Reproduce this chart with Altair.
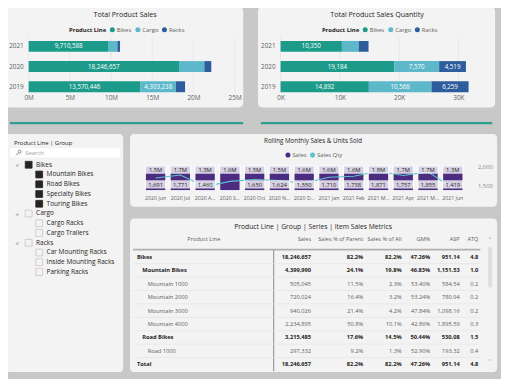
import json
import altair as alt
import pandas as pd

W, H = 501, 371


def px(v):
    return v - 8


def py(v):
    return v - 8


FONT = "Open Sans"
BG = "#c8c8c8"
PANEL = "#f3f3f3"
DARK = "#252423"
MID = "#605e5c"
TEAL_LINE = "#2f9f91"
PURPLE = "#4b2c80"
QTY_COLOR = "#5cc2cf"

# ---------------- top bar charts data ----------------
years = ["2021", "2020", "2019"]
product_lines = ["Bikes", "Cargo", "Racks"]
line_colors = ["#1c9b8b", "#5db8c9", "#2d5d9d"]

sales_bikes = [9710588, 18246657, 13570446]
sales_cargo = [1060000, 3080000, 4303238]
sales_racks = [320000, 840000, 1110000]
sales_labelled = {"Bikes": [True, True, True], "Cargo": [False, False, True], "Racks": [False, False, False]}

qty_bikes = [10350, 19184, 14892]
qty_cargo = [2830, 7570, 10568]
qty_racks = [1660, 4519, 6259]
qty_labelled = {"Bikes": [True, True, True], "Cargo": [False, True, True], "Racks": [False, True, True]}

sales_ticks = [0, 5000000, 10000000, 15000000, 20000000, 25000000]
qty_ticks = [0, 10000, 20000, 30000]

# ---------------- rolling monthly data ----------------
months = ["2020 Jun", "2020 Jul", "2020 Aug", "2020 Sep", "2020 Oct", "2020 Nov", "2020 Dec",
          "2021 Jan", "2021 Feb", "2021 Mar", "2021 Apr", "2021 May", "2021 Jun"]
month_labels = ["2020 Jun", "2020 Jul", "2020 A...", "2020 S...", "2020 Oct", "2020 N...", "2020 D...",
                "2021 Jan", "2021 Feb", "2021 M...", "2021 Apr", "2021 M...", "2021 Jun"]
monthly_sales = [1500000, 1700000, 1300000, 1600000, 1500000, 1500000, 1600000,
                 1600000, 1600000, 1800000, 1700000, 1700000, 1300000]
monthly_qty = [1691, 1771, 1460, 1600, 1650, 1624, 1550, 1710, 1738, 1871, 1757, 1855, 1419]
monthly_qty_labelled = [True, True, True, False, True, True, True, True, True, True, True, True, True]
qty_axis_ticks = [1500, 2000]

# ---------------- slicer data ----------------
slicer_items = ["Bikes", "Mountain Bikes", "Road Bikes", "Specialty Bikes", "Touring Bikes",
                "Cargo", "Cargo Racks", "Cargo Trailers",
                "Racks", "Car Mounting Racks", "Inside Mounting Racks", "Parking Racks"]
slicer_level = [0, 1, 1, 1, 1, 0, 1, 1, 0, 1, 1, 1]
slicer_checked = [True, True, True, True, True, False, False, False, False, False, False, False]

# ---------------- table data ----------------
tbl_items = ["Bikes", "Mountain Bikes", "Mountain 1000", "Mountain 2000", "Mountain 3000",
             "Mountain 4000", "Road Bikes", "Road 1000", "Total"]
tbl_level = [0, 1, 2, 2, 2, 2, 1, 2, 0]
tbl_bold = [True, True, False, False, False, False, True, False, True]
tbl_sales = [18246657, 4399990, 505045, 720024, 940026, 2234895, 3215485, 297332, 18246657]
tbl_pct_parent = [0.822, 0.241, 0.115, 0.164, 0.214, 0.508, 0.176, 0.092, 0.822]
tbl_pct_all = [0.822, 0.198, 0.023, 0.032, 0.042, 0.101, 0.145, 0.013, 0.822]
tbl_gm = [0.4726, 0.4683, 0.5340, 0.5324, 0.4784, 0.4286, 0.5044, 0.5290, 0.4726]
tbl_asp = [951.14, 1151.53, 584.54, 780.94, 1098.16, 1895.59, 530.08, 193.32, 951.14]
tbl_atq = [4.8, 1.0, 0.2, 0.2, 0.2, 0.3, 1.5, 0.4, 4.8]
tbl_headers = ["Sales", "Sales % of Parent", "Sales % of All", "GM%", "ASP", "ATQ"]

ONE = pd.DataFrame({"a": [0]})


def panel(x1, y1, x2, y2, fill=PANEL, r=4):
    return alt.Chart(ONE).mark_rect(fill=fill, cornerRadius=r).encode(
        x=alt.value(px(x1)), x2=alt.value(px(x2)), y=alt.value(py(y1)), y2=alt.value(py(y2)))


def text_at(txt, x, y, size, color=DARK, align="center", weight="normal", font=FONT):
    return alt.Chart(pd.DataFrame({"t": [txt]})).mark_text(
        align=align, baseline="middle", fontSize=size, color=color, fontWeight=weight, font=font
    ).encode(text="t:N", x=alt.value(px(x)), y=alt.value(py(y)))


def hrule(x1, x2, y, color, w=1.0):
    return alt.Chart(ONE).mark_rule(color=color, strokeWidth=w).encode(
        x=alt.value(px(x1)), x2=alt.value(px(x2)), y=alt.value(py(y)))


def vrule(x, y1, y2, color, w=1.0):
    return alt.Chart(ONE).mark_rule(color=color, strokeWidth=w).encode(
        x=alt.value(px(x)), y=alt.value(py(y1)), y2=alt.value(py(y2)))


def stacked_panel(vals, labelled, ticks, label_expr, x0, x_at_max, dom_max, legend_x):
    rows = []
    for li, name in enumerate(product_lines):
        for yi, yr in enumerate(years):
            rows.append({"year": yr, "line": name, "order": li,
                         "value": vals[li][yi], "show": labelled[name][yi]})
    df = pd.DataFrame(rows)
    xs = alt.Scale(domain=[0, dom_max], range=[px(x0), px(x_at_max)], nice=False, zero=True)
    ys = alt.Scale(domain=years, range=[py(33.75), py(95.25)], paddingInner=0.46, paddingOuter=0.23)
    grid = alt.Chart(pd.DataFrame({"t": ticks})).mark_rule(color="#e3e3e3", strokeWidth=0.7).encode(
        x=alt.X("t:Q", scale=xs), y=alt.value(py(35)), y2=alt.value(py(91)))
    bars = alt.Chart(df).mark_bar().encode(
        x=alt.X("value:Q", stack="zero", scale=xs,
                axis=alt.Axis(orient="bottom", offset=py(91) - H, values=ticks, labelExpr=label_expr,
                              title=None, grid=False, domain=False, ticks=False, tickSize=0,
                              labelPadding=2, labelFontSize=6.5, labelColor=MID, labelFlush=False,
                              labelOverlap=False, zindex=1)),
        y=alt.Y("year:N", sort=years, scale=ys,
                axis=alt.Axis(orient="left", offset=-px(x0), title=None, domain=False, ticks=False,
                              tickSize=0, labelPadding=5.5, labelFontSize=6.5, labelColor=MID,
                              grid=False, zindex=1)),
        color=alt.Color("line:N", scale=alt.Scale(domain=product_lines, range=line_colors),
                        legend=alt.Legend(title="Product Line", orient="none", legendX=px(legend_x),
                                          legendY=py(24), direction="horizontal", titleOrient="left",
                                          symbolType="circle", symbolSize=26, symbolStrokeWidth=0,
                                          labelFontSize=6, titleFontSize=6, titleFontWeight="bold",
                                          titleColor=DARK, labelColor=MID, columnPadding=3,
                                          labelOffset=1.5, titlePadding=3, padding=0)),
        order=alt.Order("order:Q", sort="ascending"),
    )
    labels = alt.Chart(df).transform_stack(
        stack="value", groupby=["year"], as_=["v0", "v1"], sort=[alt.SortField("order", order="ascending")]
    ).transform_calculate(mid="(datum.v0 + datum.v1) / 2").transform_filter("datum.show").mark_text(
        color="white", fontSize=6.3, baseline="middle", align="center"
    ).encode(
        x=alt.X("mid:Q", scale=xs),
        y=alt.Y("year:N", sort=years, scale=ys),
        text=alt.Text("value:Q", format=",d"),
    )
    return alt.layer(grid, bars, labels)


sales_chart = stacked_panel([sales_bikes, sales_cargo, sales_racks], sales_labelled, sales_ticks,
                            "datum.value / 1000000 + 'M'", 29, 238.3, 25000000, 70)
qty_chart = stacked_panel([qty_bikes, qty_cargo, qty_racks], qty_labelled, qty_ticks,
                          "datum.value / 1000 + 'K'", 285, 465.7, 30000, 327)

# ---------------- rolling chart ----------------
rdf = pd.DataFrame({
    "mi": list(range(len(months))),
    "month": months,
    "sales": monthly_sales,
    "qty": monthly_qty,
    "show_qty": monthly_qty_labelled,
    "series": ["Sales"] * len(months),
})
xs_r = alt.Scale(domain=list(range(len(months))), range=[px(145.4), px(472.6)], paddingInner=0, paddingOuter=0)
ys_sales = alt.Scale(domain=[0, 1200000], range=[py(190), py(166)], clamp=True, nice=False, zero=True)
ys_qty = alt.Scale(domain=[1500, 2000], range=[py(185), py(166)], nice=False, zero=False)
r_base = alt.Chart(rdf)
r_bars = r_base.mark_bar(width={"band": 0.78}).encode(
    x=alt.X("mi:O", scale=xs_r,
            axis=alt.Axis(orient="bottom", offset=py(190) - H, labelExpr=json.dumps(month_labels) + "[datum.value]",
                          labelAngle=0, title=None, domain=False, ticks=False, tickSize=0, labelPadding=6,
                          labelFontSize=5.3, labelColor=MID, labelOverlap=False, grid=False, zindex=1)),
    y=alt.Y("sales:Q", scale=ys_sales, axis=None),
    color=alt.Color("series:N", scale=alt.Scale(domain=["Sales", "Sales Qty"], range=[PURPLE, QTY_COLOR]),
                    legend=alt.Legend(title=None, orient="none", legendX=px(289.5), legendY=py(151.5),
                                      direction="horizontal", symbolType="circle", symbolSize=26,
                                      symbolStrokeWidth=0, labelFontSize=6, labelColor=MID,
                                      columnPadding=3, labelOffset=1.5, padding=0)),
)
r_topbox = r_base.mark_bar(width={"band": 0.9}, color="white", opacity=0.78, yOffset=-1, y2Offset=7.5,
                           cornerRadius=1).encode(
    x=alt.X("mi:O", scale=xs_r),
    y=alt.Y("sales:Q", scale=ys_sales, axis=None),
    y2=alt.Y2("sales:Q"),
)
r_toptext = r_base.transform_calculate(lab="format(datum.sales / 1000000, '.1f') + 'M'").mark_text(
    fontSize=5.9, color=DARK, baseline="middle", yOffset=3.3
).encode(
    x=alt.X("mi:O", scale=xs_r),
    y=alt.Y("sales:Q", scale=ys_sales, axis=None),
    text="lab:N",
)
r_line = r_base.mark_line(color=QTY_COLOR, strokeWidth=1.1).encode(
    x=alt.X("mi:O", scale=xs_r),
    y=alt.Y("qty:Q", scale=ys_qty,
            axis=alt.Axis(orient="right", offset=px(484) - W, values=qty_axis_ticks, format=",d", title=None,
                          domain=False, ticks=False, tickSize=0, labelPadding=1, labelFontSize=6,
                          labelColor="#8a8886", grid=False, zindex=1)),
)
r_qbox = r_base.transform_filter("datum.show_qty").mark_bar(
    width={"band": 0.9}, color="white", opacity=0.78, cornerRadius=1
).encode(
    x=alt.X("mi:O", scale=xs_r), y=alt.value(py(180)), y2=alt.value(py(188.5)))
r_qtext = r_base.transform_filter("datum.show_qty").mark_text(
    fontSize=5.9, color=DARK, baseline="middle"
).encode(
    x=alt.X("mi:O", scale=xs_r), y=alt.value(py(184.4)), text=alt.Text("qty:Q", format=",d"))
rolling = alt.layer(r_bars, r_line, r_topbox, r_toptext, r_qbox, r_qtext).resolve_scale(y="independent")

# ---------------- slicer ----------------
sdf = pd.DataFrame({"idx": list(range(len(slicer_items))), "name": slicer_items,
                    "level": slicer_level, "checked": slicer_checked})
ys_sl = alt.Scale(type="point", domain=list(range(len(slicer_items))), range=[py(164.3), py(273.3)], padding=0)
xs_sl = alt.Scale(domain=[0, 1], range=[px(29), px(39.7)], nice=False, zero=False)
sl_box = alt.Chart(sdf).mark_square(size=48, strokeWidth=0.8, opacity=1).encode(
    x=alt.X("level:Q", scale=xs_sl, axis=None),
    y=alt.Y("idx:O", scale=ys_sl, axis=None),
    fill=alt.condition("datum.checked", alt.value(DARK), alt.value(PANEL)),
    stroke=alt.condition("datum.checked", alt.value(DARK), alt.value("#c8c6c4")),
)
sl_text = alt.Chart(sdf).mark_text(align="left", baseline="middle", dx=7.5, fontSize=6.6, color=DARK).encode(
    x=alt.X("level:Q", scale=xs_sl, axis=None),
    y=alt.Y("idx:O", scale=ys_sl, axis=None),
    text="name:N",
)
sl_arrow = alt.Chart(sdf).transform_filter("datum.level == 0").mark_text(
    text="◢", dx=-12, fontSize=4, color="#b3b0ad", font="DejaVu Sans", baseline="middle"
).encode(x=alt.X("level:Q", scale=xs_sl, axis=None), y=alt.Y("idx:O", scale=ys_sl, axis=None))
slicer = alt.layer(sl_box, sl_text, sl_arrow)
mag_circle = alt.Chart(ONE).mark_point(shape="circle", size=9, strokeWidth=0.7, color="#605e5c",
                                       filled=False, opacity=1).encode(
    x=alt.value(px(19.8)), y=alt.value(py(151)))
mag_handle = alt.Chart(ONE).mark_rule(color="#605e5c", strokeWidth=0.8).encode(
    x=alt.value(px(16.3)), x2=alt.value(px(18.5)), y=alt.value(py(154.6)), y2=alt.value(py(152.4)))

# ---------------- table ----------------
fmt_cols = [
    [f"{v:,}" for v in tbl_sales],
    [f"{v * 100:.1f}%" for v in tbl_pct_parent],
    [f"{v * 100:.1f}%" for v in tbl_pct_all],
    [f"{v * 100:.2f}%" for v in tbl_gm],
    [f"{v:,.2f}" for v in tbl_asp],
    [f"{v:.1f}" for v in tbl_atq],
]
cells = []
for r in range(len(tbl_items)):
    for c in range(len(tbl_headers)):
        cells.append({"row": r, "col": c, "txt": fmt_cols[c][r], "bold": tbl_bold[r]})
cdf = pd.DataFrame(cells)
ndf = pd.DataFrame({"row": list(range(len(tbl_items))), "name": tbl_items, "level": tbl_level, "bold": tbl_bold})
hdf = pd.DataFrame({"col": list(range(len(tbl_headers))), "name": tbl_headers})

col_right = [316, 369, 408, 437, 467, 486]
xs_col = alt.Scale(domain=list(range(len(tbl_headers))), range=[px(v) for v in col_right], nice=False, zero=False)
xs_lvl = alt.Scale(domain=[0, 2], range=[px(139), px(150)], nice=False, zero=False)
ys_row = alt.Scale(type="point", domain=list(range(len(tbl_items))), range=[py(258), py(367)], padding=0)

t_cells = []
for bold in (True, False):
    t_cells.append(alt.Chart(cdf).transform_filter(f"datum.bold == {str(bold).lower()}").mark_text(
        align="right", baseline="middle", fontSize=5.8, fontWeight="bold" if bold else "normal",
        color=DARK if bold else MID
    ).encode(x=alt.X("col:Q", scale=xs_col, axis=None), y=alt.Y("row:O", scale=ys_row, axis=None), text="txt:N"))
    t_cells.append(alt.Chart(ndf).transform_filter(f"datum.bold == {str(bold).lower()}").mark_text(
        align="left", baseline="middle", fontSize=5.8, fontWeight="bold" if bold else "normal",
        color=DARK if bold else MID
    ).encode(x=alt.X("level:Q", scale=xs_lvl, axis=None), y=alt.Y("row:O", scale=ys_row, axis=None), text="name:N"))
t_head = alt.Chart(hdf).mark_text(align="right", baseline="middle", fontSize=5.7, color=MID).encode(
    x=alt.X("col:Q", scale=xs_col, axis=None), y=alt.value(py(240)), text="name:N")
t_sep = alt.Chart(ndf).transform_filter(f"datum.row < {len(tbl_items) - 1}").mark_rule(
    color="#e6e6e6", strokeWidth=0.8, yOffset=6.8
).encode(x=alt.value(px(135)), x2=alt.value(px(488)), y=alt.Y("row:O", scale=ys_row, axis=None))
table = alt.layer(t_sep, *t_cells, t_head).resolve_scale(x="independent")

# ---------------- assemble ----------------
layers = [
    panel(5, 4, 247, 106),
    panel(262, 4, 503, 106),
    panel(6, 133, 125, 375),
    panel(132, 133, 505, 207),
    panel(132, 219, 505, 375),
    hrule(10, 247, 122, TEAL_LINE, 2.2),
    hrule(265, 500, 122, TEAL_LINE, 2.2),
    text_at("Total Product Sales", 127, 12.5, 7.2),
    text_at("Total Product Sales Quantity", 383, 12.5, 7.2),
    sales_chart,
    qty_chart,
    text_at("Rolling Monthly Sales & Units Sold", 318, 140.5, 6.3),
    rolling,
    text_at("Product Line | Group", 14, 142, 6.0, align="left"),
    panel(10, 147.5, 122, 157, fill="white", r=1),
    mag_circle,
    mag_handle,
    text_at("Search", 25.5, 152.3, 6.0, color="#a19f9d", align="left"),
    slicer,
    text_at("Product Line | Group | Series | Item Sales Metrics", 318, 228, 6.9),
    text_at("Product Line", 207, 240, 5.7, color=MID),
    hrule(135, 488, 250.5, "#b3b0ad", 1.6),
    vrule(278, 251, 374, "#8a8886", 1.0),
    table,
    panel(496, 248, 500, 289, fill="#dedede", r=1),
    text_at("˄", 497.5, 241, 6, color="#8a8886", font="DejaVu Sans"),
    text_at("˅", 497.5, 365, 6, color="#8a8886", font="DejaVu Sans"),
]

chart = alt.layer(*layers).resolve_scale(
    x="independent", y="independent", color="independent"
).properties(
    width=W, height=H, background=BG, padding=0, autosize=alt.AutoSizeParams(type="none")
).configure(font=FONT).configure_view(stroke=None)

chart.save("out.html", embed_options={"renderer": "svg", "actions": False})
